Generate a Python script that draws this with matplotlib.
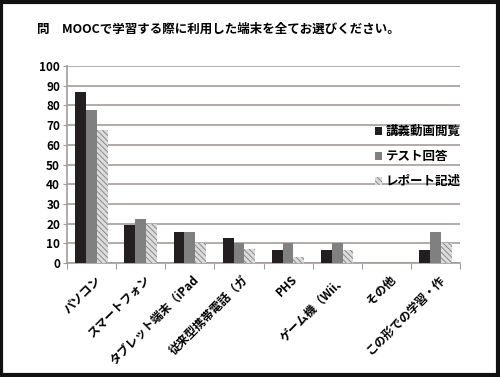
import matplotlib.pyplot as plt
import numpy as np
from matplotlib.patches import Rectangle

plt.rcParams['font.family'] = ['Noto Sans CJK JP', 'DejaVu Sans']

categories = ['パソコン', 'スマートフォン', 'タブレット端末（iPad', '従来型携帯電話（ガ',
              'PHS', 'ゲーム機（Wii、', 'その他', 'この形での学習・作']
lecture = [87, 19.5, 16, 13, 6.5, 6.5, 0, 6.5]
test = [77.5, 22.5, 16, 10, 10, 10, 0, 16]
report = [67.5, 20, 10, 7, 3, 6.5, 0, 10]
series_names = ['講義動画閲覧', 'テスト回答', 'レポート記述']

fig = plt.figure(figsize=(5, 3.77), dpi=100)
ax = fig.add_axes([0.134, 0.302, 0.786, 0.523])

x = np.arange(len(categories))
w = 0.22
ax.bar(x - w, lecture, w, color='#231f20', label=series_names[0], zorder=3)
ax.bar(x, test, w, color='#808080', label=series_names[1], zorder=3)
plt.rcParams['hatch.linewidth'] = 0.7
ax.bar(x + w, report, w, color='#dcdcdc', edgecolor='#8a8a8a', hatch='\\\\\\\\\\\\',
       linewidth=0, label=series_names[2], zorder=3)

ax.set_xlim(-0.5, len(categories) - 0.5)
ax.set_ylim(0, 100)
ax.set_yticks(np.arange(0, 101, 10))
ax.yaxis.grid(True, color='#a39d9b', linewidth=1.2)
ax.set_axisbelow(True)
for s in ['top', 'right']:
    ax.spines[s].set_visible(False)
ax.spines['left'].set_color('#a39d9b')
ax.spines['bottom'].set_color('#a39d9b')
ax.spines['left'].set_linewidth(1.2)
ax.spines['bottom'].set_linewidth(1.2)

# ticks sit between the category groups
ax.set_xticks(np.arange(len(categories) + 1) - 0.5)
ax.set_xticklabels([])
ax.tick_params(axis='x', length=4, color='#a39d9b', direction='out')
ax.tick_params(axis='y', length=3, color='#a39d9b', labelsize=8.5, pad=2)
for lbl in ax.get_yticklabels():
    lbl.set_fontweight('bold')

# category labels, rotated
for i, c in enumerate(categories):
    ax.text(i + 0.05, -5, c, rotation=45, ha='right', va='top', fontsize=8.5,
            fontweight='bold', rotation_mode='anchor')

ax.legend(loc='upper left', bbox_to_anchor=(0.77, 0.725), frameon=False,
          prop={'size': 9, 'weight': 'bold'}, handlelength=0.6,
          handleheight=0.6, handletextpad=0.3, labelspacing=0.95,
          borderaxespad=0)

fig.text(0.074, 0.922, '問　MOOCで学習する際に利用した端末を全てお選びください。',
         fontsize=9, fontweight='bold', va='center', ha='left')

fig.patches.append(Rectangle((0.002, 0.006), 0.993, 0.99, transform=fig.transFigure,
                             fill=False, edgecolor='#111111', linewidth=3))

fig.savefig('out.png', dpi=100)
